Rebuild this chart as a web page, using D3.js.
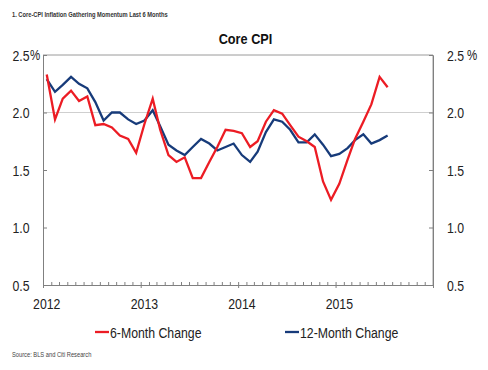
<!DOCTYPE html>
<html>
<head>
<meta charset="utf-8">
<script src="https://cdn.jsdelivr.net/npm/d3@7"></script>
<style>
    body { margin: 0; background: #fff; }
    svg text { font-family: "Liberation Sans", Arial, sans-serif; }
</style>
</head>
<body>
<div id="chart"></div>
<script>
// Monthly readings, Jan 2012 .. Jul 2015 (plotted mid-month)
const startYear = 2012;
const sixMonth = [2.33, 1.94, 2.12, 2.19, 2.10, 2.14, 1.89, 1.90, 1.87, 1.80, 1.77, 1.65,
                  1.90, 2.12, 1.85, 1.63, 1.57, 1.61, 1.43, 1.43, 1.57, 1.70, 1.85, 1.84,
                  1.82, 1.70, 1.75, 1.92, 2.02, 1.99, 1.89, 1.79, 1.75, 1.70, 1.40, 1.24,
                  1.38, 1.59, 1.77, 1.92, 2.07, 2.31, 2.22];
const twelveMonth = [2.29, 2.18, 2.24, 2.31, 2.25, 2.21, 2.09, 1.93, 2.00, 2.00, 1.94, 1.90,
                     1.93, 2.02, 1.88, 1.72, 1.67, 1.63, 1.70, 1.77, 1.73, 1.67, 1.70, 1.73,
                     1.63, 1.57, 1.66, 1.83, 1.94, 1.92, 1.85, 1.74, 1.74, 1.81, 1.72, 1.62,
                     1.64, 1.69, 1.76, 1.81, 1.73, 1.76, 1.80];
const yTicks = [0.5, 1.0, 1.5, 2.0, 2.5];
const yearLabels = ["2012", "2013", "2014", "2015"];
const seriesNames = ["6-Month Change", "12-Month Change"];
const seriesColors = ["#ec1c24", "#173b7a"];

const width = 488, height = 370;
const plot = { left: 43, right: 433, top: 55, bottom: 285 };
const squeeze = 0.82; // no narrow face installed, so squeeze the regular one

const svg = d3.select("#chart").append("svg")
    .attr("width", width)
    .attr("height", height);

// Text helper: places a horizontally condensed label
function label(parent, x, y, str, size, opts = {}) {
    return parent.append("text")
        .attr("transform", `translate(${x},${y}) scale(${squeeze},1)`)
        .attr("font-size", size)
        .attr("font-weight", opts.weight || "normal")
        .attr("text-anchor", opts.anchor || "start")
        .attr("fill", opts.fill || "#222")
        .text(str);
}

// Scales
const x = d3.scaleTime()
    .domain([new Date(2012, 0, 1), new Date(2016, 0, 1)])
    .range([plot.left, plot.right]);
const y = d3.scaleLinear()
    .domain([0.5, 2.5])
    .range([plot.bottom, plot.top]);

const dates = sixMonth.map((d, i) => new Date(startYear, i, 15));

// Header text
label(svg, 12, 17, "1. Core-CPI Inflation Gathering Momentum Last 6 Months", 7, { weight: "bold", fill: "#333" });
label(svg, 245.5, 43.5, "Core CPI", 15.5, { weight: "bold", anchor: "middle", fill: "#111" });

// Grid line at 2.0 only
svg.append("line")
    .attr("x1", plot.left).attr("x2", plot.right)
    .attr("y1", y(2.0)).attr("y2", y(2.0))
    .attr("stroke", "#cfcfcf").attr("stroke-width", 1);

// Frame: top and right lighter, left and bottom axis darker
svg.append("path")
    .attr("d", `M${plot.left},${plot.top}H${plot.right}V${plot.bottom}`)
    .attr("fill", "none").attr("stroke", "#9a9a9a").attr("stroke-width", 1);

// Y axes (ticks pointing inward)
const leftAxis = d3.axisLeft(y).tickValues(yTicks).tickSizeInner(-4).tickSizeOuter(0).tickFormat("");
const rightAxis = d3.axisRight(y).tickValues(yTicks).tickSizeInner(-4).tickSizeOuter(0).tickFormat("");
svg.append("g").attr("transform", `translate(${plot.left},0)`).call(leftAxis);
svg.append("g").attr("transform", `translate(${plot.right},0)`).call(rightAxis);

// X axis: monthly ticks up, yearly ticks down
const months = d3.timeMonth.range(new Date(2012, 0, 1), new Date(2016, 0, 2));
const years = d3.timeYear.range(new Date(2012, 0, 1), new Date(2016, 0, 2));
const bottomMinor = d3.axisBottom(x).tickValues(months).tickSizeInner(-3).tickSizeOuter(0).tickFormat("");
const bottomMajor = d3.axisBottom(x).tickValues(years).tickSizeInner(3).tickSizeOuter(0).tickFormat("");
svg.append("g").attr("transform", `translate(0,${plot.bottom})`).call(bottomMinor);
svg.append("g").attr("transform", `translate(0,${plot.bottom})`).call(bottomMajor);

svg.selectAll(".domain").attr("stroke", "#808080");
svg.selectAll(".tick line").attr("stroke", "#808080");

// Y tick labels on both sides
const yLabels = svg.append("g");
yTicks.forEach(d => {
    label(yLabels, 29.5, y(d) + 5.5, d.toFixed(1), 15, { anchor: "end" });
    label(yLabels, 447, y(d) + 5.5, d.toFixed(1), 15);
});
label(yLabels, 30, y(2.5) + 4.5, "%", 14);
label(yLabels, 467, y(2.5) + 4.5, "%", 14);

// Year labels centred on January points
const xLabels = svg.append("g");
yearLabels.forEach(d => {
    label(xLabels, x(new Date(+d, 0, 15)), 308.5, d, 15, { anchor: "middle" });
});

// Lines
const line = d3.line()
    .x((d, i) => x(dates[i]))
    .y(d => y(d));
[twelveMonth, sixMonth].forEach((series, k) => {
    svg.append("path")
        .datum(series)
        .attr("d", line)
        .attr("fill", "none")
        .attr("stroke", seriesColors[1 - k])
        .attr("stroke-width", 2.3)
        .attr("stroke-linejoin", "miter");
});

// Legend
const legendX = [95, 285];
seriesNames.forEach((name, k) => {
    const g = svg.append("g").attr("transform", `translate(${legendX[k]},332)`);
    g.append("line")
        .attr("x1", 0).attr("x2", 14).attr("y1", 0).attr("y2", 0)
        .attr("stroke", seriesColors[k]).attr("stroke-width", 2.3);
    label(g, 15, 5.5, name, 15);
});

// Source
label(svg, 12, 357, "Source: BLS and Citi Research", 7, { fill: "#444" });
</script>
</body>
</html>
